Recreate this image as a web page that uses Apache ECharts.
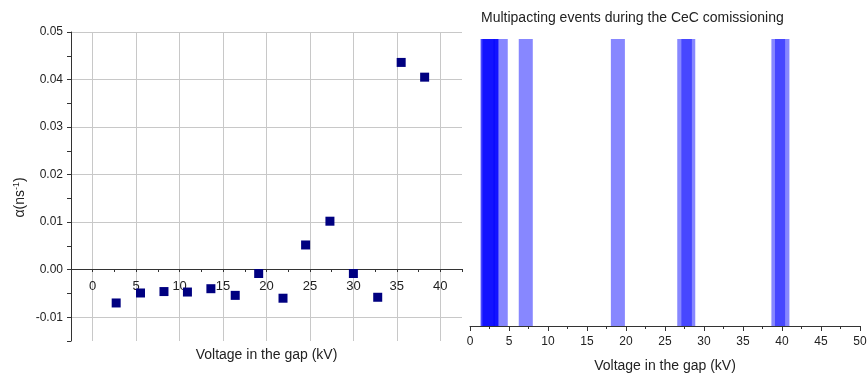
<!DOCTYPE html>
<html>
<head>
<meta charset="utf-8">
<script src="https://cdn.jsdelivr.net/npm/echarts@6/dist/echarts.min.js"></script>
<style>
  html, body { margin: 0; padding: 0; background: #fff; }
  #chart { width: 867px; height: 373px; }
</style>
</head>
<body>
<div id="chart"></div>
<script>
// left panel: growth rate vs gap voltage
const voltage = [2.7, 5.5, 8.2, 10.9, 13.6, 16.4, 19.1, 21.9, 24.5, 27.3, 30.0, 32.8, 35.5, 38.2];
const alpha = [-0.0070, -0.0049, -0.0046, -0.0047, -0.0040, -0.0054, -0.0008, -0.0060,
  0.0052, 0.0102, -0.0008, -0.0058, 0.0436, 0.0405];

// right panel: multipacting events (voltage bands, kV)
const eventStart = [1.37, 1.37, 1.6, 1.6, 3.0, 6.25, 18.06, 26.57, 27.1, 38.64, 39.1];
const eventEnd = [3.2, 3.63, 3.63, 3.63, 4.84, 8.05, 19.86, 28.45, 28.88, 40.4, 40.95];

const font = 'Liberation Sans, Arial, sans-serif';
const textColor = '#222';
const gridGray = '#c8c8c8';

const chart = echarts.init(document.getElementById('chart'));

chart.setOption({
  animation: false,
  backgroundColor: '#fff',
  textStyle: { fontFamily: font },
  title: {
    text: 'Multipacting events during the CeC comissioning',
    left: 476,
    top: 6,
    textStyle: { fontSize: 14, fontWeight: 'normal', color: textColor, fontFamily: font }
  },
  grid: [
    { left: 71, top: 32, right: 405, bottom: 32, outerBoundsMode: 'none', containLabel: false },
    { left: 470, top: 39, right: 7, bottom: 47, outerBoundsMode: 'none', containLabel: false }
  ],
  xAxis: [
    {
      type: 'value',
      gridIndex: 0,
      position: 'bottom',
      // axis sits on alpha = 0 (72 px above the plot bottom)
      offset: -72,
      min: -2.5,
      max: 42.5,
      interval: 2.5,
      name: 'Voltage in the gap (kV)',
      nameLocation: 'middle',
      nameGap: 79,
      nameTextStyle: { fontSize: 14, color: textColor, fontFamily: font },
      axisLine: { onZero: false, lineStyle: { color: '#333', width: 1 } },
      axisTick: { length: 3, lineStyle: { color: '#333' } },
      axisLabel: {
        fontSize: 13,
        color: textColor,
        margin: 11,
        formatter: v => (Math.round(v * 10) % 50 === 0 && v >= 0 && v <= 40) ? String(v) : ''
      },
      splitLine: { show: true, lineStyle: { color: ['transparent', gridGray], width: 1 } }
    },
    {
      type: 'value',
      gridIndex: 1,
      min: 0,
      max: 50,
      interval: 5,
      name: 'Voltage in the gap (kV)',
      nameLocation: 'middle',
      nameGap: 33,
      nameTextStyle: { fontSize: 14, color: textColor, fontFamily: font },
      axisLine: { lineStyle: { color: '#333', width: 1 } },
      axisTick: { length: 5, lineStyle: { color: '#333' } },
      minorTick: { show: true, splitNumber: 2, length: 3, lineStyle: { color: '#333' } },
      axisLabel: { fontSize: 12, color: textColor, margin: 10 },
      splitLine: { show: false }
    }
  ],
  yAxis: [
    {
      type: 'value',
      gridIndex: 0,
      min: -0.015,
      max: 0.05,
      interval: 0.005,
      name: '\u03b1(ns{sup|-1})',
      nameLocation: 'middle',
      nameGap: 42,
      nameTextStyle: {
        fontSize: 14,
        color: textColor,
        fontFamily: font,
        padding: [0, 22, 0, 0],
        rich: {
          sup: { fontSize: 9, verticalAlign: 'top', padding: [0, 0, 8, 0], color: textColor }
        }
      },
      axisLine: { onZero: false, lineStyle: { color: '#333', width: 1 } },
      axisTick: { length: 4, lineStyle: { color: '#333' } },
      axisLabel: {
        fontSize: 12,
        color: textColor,
        margin: 8,
        formatter: v => (Math.abs(Math.round(v * 1000)) % 10 === 0) ? v.toFixed(2) : ''
      },
      splitLine: { show: true, lineStyle: { color: ['transparent', gridGray], width: 1 } }
    },
    {
      type: 'value',
      gridIndex: 1,
      min: 0,
      max: 1,
      show: false
    }
  ],
  series: [
    {
      type: 'scatter',
      xAxisIndex: 0,
      yAxisIndex: 0,
      symbol: 'rect',
      symbolSize: 9,
      itemStyle: { color: '#000080', opacity: 1 },
      data: voltage.map((v, i) => [v, alpha[i]])
    },
    {
      type: 'custom',
      xAxisIndex: 1,
      yAxisIndex: 1,
      encode: { x: [0, 1] },
      data: eventStart.map((s, i) => [s, eventEnd[i]]),
      renderItem: function (params, api) {
        const p0 = api.coord([api.value(0), 1]);
        const p1 = api.coord([api.value(1), 0]);
        return {
          type: 'rect',
          shape: { x: p0[0], y: p0[1], width: p1[0] - p0[0], height: p1[1] - p0[1] },
          style: { fill: 'rgba(0, 0, 255, 0.47)' }
        };
      }
    }
  ]
});
</script>
</body>
</html>
